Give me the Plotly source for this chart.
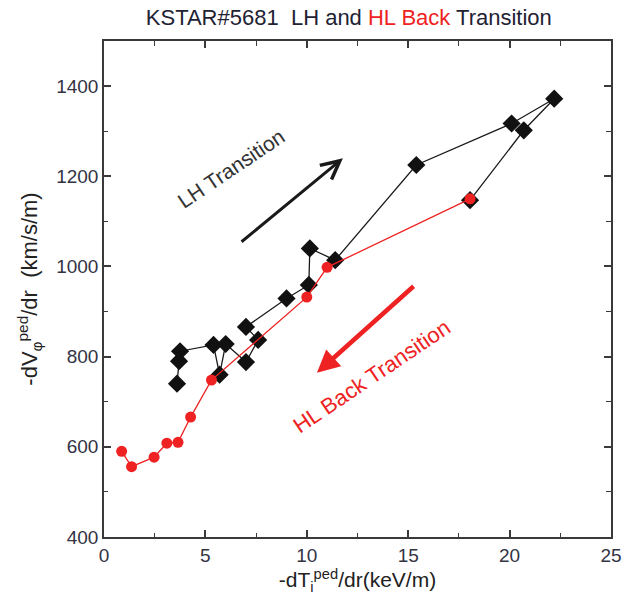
import plotly.graph_objects as go

# LH transition (black diamonds), in path order
lh_x = [3.6, 3.7, 3.75, 5.4, 5.7, 6.0, 7.0, 7.6, 7.0, 9.0, 10.1, 10.15, 11.4, 15.4, 20.1, 22.2, 20.7, 18.05]
lh_y = [740, 790, 812, 826, 760, 828, 788, 837, 866, 929, 959, 1040, 1014, 1225, 1317, 1372, 1302, 1147]

# HL back transition (red), in path order
hl_x = [18.05, 11.0, 10.0, 5.3, 4.27, 3.65, 3.1, 2.47, 1.36, 0.87]
hl_y = [1150, 998, 932, 748, 666, 610, 608, 577, 556, 590]

x_ticks = [0, 5, 10, 15, 20, 25]
y_ticks = [400, 600, 800, 1000, 1200, 1400]

FONT = "Liberation Sans Narrow, Arial Narrow, Liberation Sans, Arial, sans-serif"
AX = "#3a3a3a"

fig = go.Figure()
fig.add_trace(go.Scatter(
    x=lh_x, y=lh_y, mode="lines+markers",
    line=dict(color="#1a1a1a", width=1.3),
    marker=dict(symbol="diamond", size=14, color="#111111"),
    showlegend=False))
fig.add_trace(go.Scatter(
    x=hl_x, y=hl_y, mode="lines+markers",
    line=dict(color="#ee2222", width=1.3),
    marker=dict(symbol="circle", size=11, color="#ee2222"),
    showlegend=False))

axis_common = dict(
    showline=True, linecolor=AX, linewidth=1.5, mirror="ticks",
    ticks="inside", ticklen=7, tickwidth=1.5, tickcolor=AX,
    showgrid=False, zeroline=False,
    tickfont=dict(family=FONT, size=19, color="#333344"),
)

fig.update_xaxes(range=[0, 25], tickvals=x_ticks,
                 minor=dict(ticks="inside", ticklen=4, tickwidth=1.2, tickcolor=AX, dtick=2.5, showgrid=False),
                 title=dict(text="-dT<sub>i</sub><sup>ped</sup>/dr(keV/m)",
                            font=dict(family=FONT, size=21, color="#222222"), standoff=8),
                 **axis_common)
fig.update_yaxes(range=[400, 1500], tickvals=y_ticks,
                 minor=dict(ticks="inside", ticklen=4, tickwidth=1.2, tickcolor=AX, dtick=100, showgrid=False),
                 title=dict(text="-dV<sub>φ</sub><sup>ped</sup>/dr  (km/s/m)",
                            font=dict(family="Liberation Sans, Arial, sans-serif", size=22, color="#222222"), standoff=12),
                 **axis_common)

# mirrored minor ticks on top and right
fig.update_layout(
    xaxis2=dict(overlaying="x", side="top", range=[0, 25], showticklabels=False,
                tickvals=[2.5, 7.5, 12.5, 17.5, 22.5], ticks="inside", ticklen=5, tickwidth=1.4,
                tickcolor=AX, showgrid=False, zeroline=False, showline=False),
    yaxis2=dict(overlaying="y", side="right", range=[400, 1500], showticklabels=False,
                tickvals=[500, 700, 900, 1100, 1300], ticks="inside", ticklen=5, tickwidth=1.4,
                tickcolor=AX, showgrid=False, zeroline=False, showline=False),
)
fig.add_trace(go.Scatter(x=[1], y=[500], xaxis="x2", yaxis="y2", mode="markers",
                         marker=dict(opacity=0), showlegend=False, hoverinfo="skip"))

fig.add_annotation(x=11.78, y=1240, ax=6.71, ay=1052, xref="x", yref="y", axref="x", ayref="y",
                   showarrow=True, arrowhead=5, arrowsize=1.2, arrowwidth=3, arrowcolor="#1a1a1a", text="")
fig.add_annotation(x=10.5, y=764, ax=15.34, ay=959, xref="x", yref="y", axref="x", ayref="y",
                   showarrow=True, arrowhead=2, arrowsize=1.0, arrowwidth=4.5, arrowcolor="#ee2222", text="")
fig.add_annotation(x=6.26, y=1218, xref="x", yref="y", text="LH Transition", showarrow=False,
                   textangle=-34, font=dict(family="Liberation Sans, Arial, sans-serif", size=21, color="#333333"))
fig.add_annotation(x=13.2, y=755, xref="x", yref="y", text="HL Back Transition", showarrow=False,
                   textangle=-34, font=dict(family="Liberation Sans, Arial, sans-serif", size=22, color="#ee2222"))

fig.update_layout(
    width=640, height=616,
    margin=dict(l=104, r=29, t=41, b=79),
    paper_bgcolor="white", plot_bgcolor="white",
    title=dict(text="KSTAR#5681  LH and <span style='color:#ee2222'>HL Back</span> Transition",
               x=0.545, xanchor="center", y=0.972, yanchor="middle",
               font=dict(family=FONT, size=22, color="#222233")),
)

fig.write_html("out.html")
